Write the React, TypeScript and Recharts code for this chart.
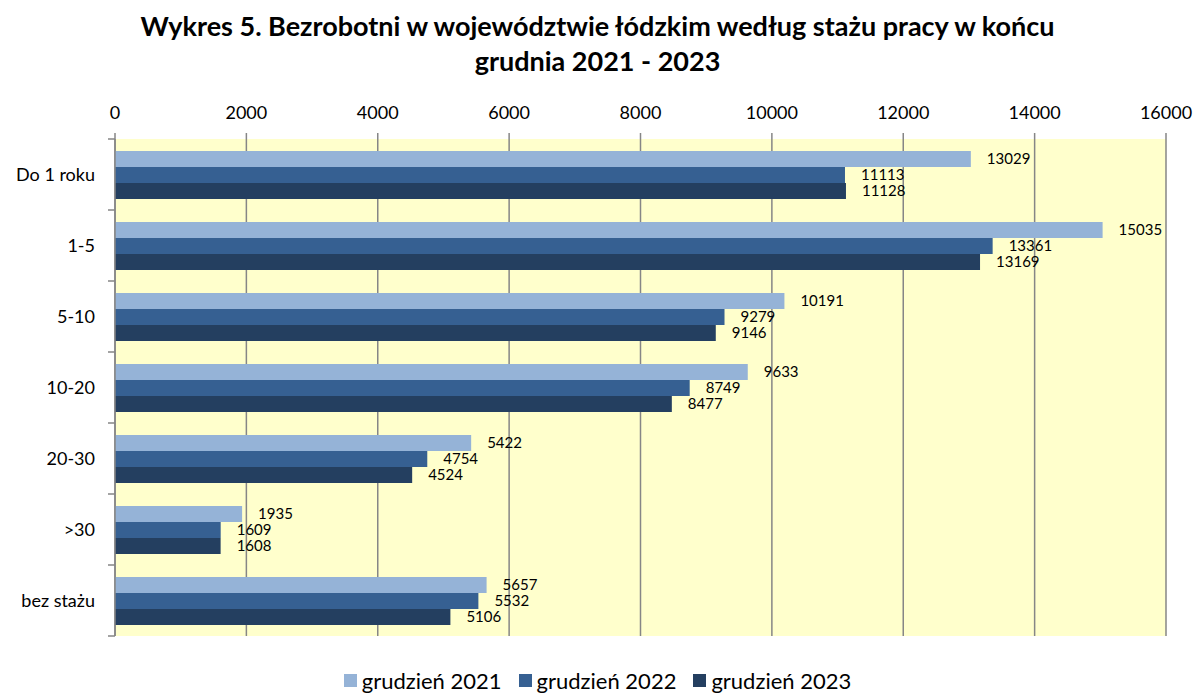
import { Bar, BarChart, CartesianGrid, LabelList, XAxis, YAxis } from "recharts";

const categories = ["Do 1 roku", "1-5", "5-10", "10-20", "20-30", ">30", "bez stażu"];
const values2021 = [13029, 15035, 10191, 9633, 5422, 1935, 5657];
const values2022 = [11113, 13361, 9279, 8749, 4754, 1609, 5532];
const values2023 = [11128, 13169, 9146, 8477, 4524, 1608, 5106];
const xTicks = [0, 2000, 4000, 6000, 8000, 10000, 12000, 14000, 16000];

const seriesNames = ["grudzień 2021", "grudzień 2022", "grudzień 2023"];
const colors = ["#95B3D7", "#366092", "#243F60"];

const data = categories.map((category, i) => ({
  category,
  y2021: values2021[i],
  y2022: values2022[i],
  y2023: values2023[i],
}));

const FONT = "Lato, 'Open Sans', sans-serif";
const PLOT_TOP = 139;
const PLOT_BOTTOM = 636;
const BAND = (PLOT_BOTTOM - PLOT_TOP) / categories.length;
const LABEL_GAP = 20;

function CategoryTick(props: any) {
  const { x, y, payload, index } = props;
  const axisX = x + LABEL_GAP;
  const isLast = index === categories.length - 1;
  return (
    <g>
      <text x={x} y={y} dy={6} textAnchor="end" fontSize={18} fill="#000" fontFamily={FONT}>
        {payload.value}
      </text>
      <line x1={axisX - 7} x2={axisX} y1={y - BAND / 2} y2={y - BAND / 2} stroke="#868686" strokeWidth={1.5} />
      {isLast && (
        <line x1={axisX - 7} x2={axisX} y1={y + BAND / 2} y2={y + BAND / 2} stroke="#868686" strokeWidth={1.5} />
      )}
    </g>
  );
}

export default function App() {
  return (
    <div style={{ position: "absolute", left: 0, top: 0, width: 1195, height: 696, background: "#fff", fontFamily: FONT }}>
      <div
        style={{
          position: "absolute",
          top: 8,
          left: 0,
          width: 1195,
          textAlign: "center",
          fontWeight: 700,
          fontSize: 27,
          lineHeight: "35px",
          color: "#000",
          zIndex: 1,
        }}
      >
        Wykres 5. Bezrobotni w województwie łódzkim według stażu pracy w końcu
        <br />
        grudnia 2021 - 2023
      </div>
      <BarChart
        width={1195}
        height={696}
        data={data}
        layout="vertical"
        margin={{ top: PLOT_TOP - 40, right: 29, bottom: 696 - PLOT_BOTTOM, left: 15 }}
        barCategoryGap="17%"
        barGap={0}
        style={{ position: "absolute", left: 0, top: 0 }}
      >
        <CartesianGrid horizontal={false} stroke="#868686" strokeWidth={1.5} fill="#FFFFCC" fillOpacity={1} />
        <XAxis
          type="number"
          orientation="top"
          height={40}
          domain={[0, 16000]}
          ticks={xTicks}
          interval={0}
          axisLine={false}
          tickLine={{ stroke: "#868686", strokeWidth: 1.5 }}
          tickSize={6}
          tickMargin={14}
          tick={{ fontSize: 18, fill: "#000", fontFamily: FONT }}
        />
        <YAxis
          type="category"
          dataKey="category"
          width={100}
          axisLine={{ stroke: "#868686", strokeWidth: 1.5 }}
          tickLine={false}
          tickSize={0}
          tickMargin={LABEL_GAP}
          interval={0}
          tick={<CategoryTick />}
        />
        {["y2021", "y2022", "y2023"].map((key, i) => (
          <Bar key={key} dataKey={key} name={seriesNames[i]} fill={colors[i]} isAnimationActive={false}>
            <LabelList dataKey={key} position="right" offset={16} fontSize={15} fill="#000" fontFamily={FONT} />
          </Bar>
        ))}
      </BarChart>
      <div
        style={{
          position: "absolute",
          top: 667,
          left: 0,
          width: 1195,
          display: "flex",
          justifyContent: "center",
          gap: 17,
          fontSize: 22,
          lineHeight: "27px",
          color: "#000",
        }}
      >
        {seriesNames.map((name, i) => (
          <div key={name} style={{ display: "flex", alignItems: "center", gap: 5 }}>
            <span style={{ width: 13, height: 13, background: colors[i], display: "inline-block" }} />
            <span>{name}</span>
          </div>
        ))}
      </div>
    </div>
  );
}
